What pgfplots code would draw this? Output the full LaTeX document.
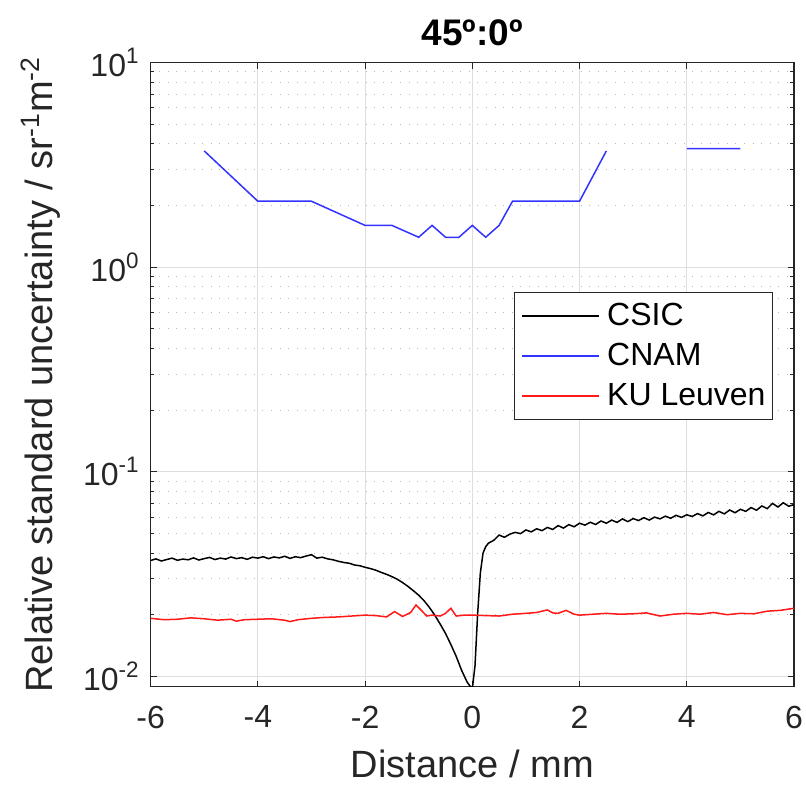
\documentclass[border=0pt]{standalone}
\usepackage{fontspec}
\setmainfont{Liberation Sans}
\usepackage{pgfplots}
\pgfplotsset{compat=1.18}
\definecolor{axcol}{RGB}{38,38,38}
\definecolor{majgrid}{RGB}{222,222,222}
\definecolor{mingrid}{RGB}{185,185,185}
\definecolor{cnam}{RGB}{51,51,255}
\definecolor{ku}{RGB}{255,25,25}
\newcommand{\lstrut}{\rule[-3pt]{0pt}{14.5pt}}
\begin{document}
\begin{tikzpicture}
\begin{axis}[
  scale only axis,
  width=321.7pt, height=312pt,
  xmin=-6, xmax=6,
  ymode=log, ymin=0.0089, ymax=10,
  xtick={-6,-4,-2,0,2,4,6},
  xticklabels={-6,-4,-2,0,2,4,6},
  ytick={0.01,0.1,1,10},
  yticklabels={10\textsuperscript{-2},10\textsuperscript{-1},10\textsuperscript{0},10\textsuperscript{1}},
  tick align=inside,
  major tick length=3pt, minor tick length=1.8pt,
  xmajorgrids, ymajorgrids, yminorgrids,
  major grid style={majgrid, line width=0.5pt},
  minor grid style={mingrid, line width=0.5pt, dash pattern=on 0.5pt off 3.8pt},
  axis line style={axcol, line width=0.6pt},
  every tick/.style={axcol, line width=0.5pt},
  tick label style={font=\fontsize{16}{18}\selectfont, text=axcol},
  xticklabel style={yshift=-6pt},
  yticklabel style={xshift=-2pt},
  xlabel={Distance / mm},
  ylabel={Relative standard uncertainty / sr\textsuperscript{-1}m\textsuperscript{-2}},
  label style={font=\fontsize{19}{21}\selectfont, text=axcol},
  xlabel style={yshift=-4pt},
  ylabel style={yshift=4.5pt},
  title={\textbf{45º:0º}},
  title style={font=\fontsize{18.5}{20}\selectfont, yshift=-1pt},
  legend style={at={(0.9674,0.6325)}, anchor=north east, draw=axcol, line width=0.5pt,
    font=\fontsize{16}{18}\selectfont, row sep=7pt, column sep=3.5pt,
    inner xsep=3.5pt, inner ysep=5.25pt,
    nodes={inner sep=0pt}},
  legend cell align=left,
  legend image code/.code={\draw[#1, line width=0.8pt] (0pt,0pt) -- (38.5pt,0pt);},
  unbounded coords=jump,
]
\addplot[black, line width=0.75pt] coordinates {
(-6.0,0.0368)(-5.9,0.0375)(-5.8,0.0366)(-5.7,0.0372)(-5.6,0.0378)(-5.5,0.0369)(-5.4,0.0374)(-5.3,0.0371)(-5.2,0.0379)(-5.1,0.0370)
(-5.0,0.0376)(-4.9,0.0381)(-4.8,0.0372)(-4.7,0.0378)(-4.6,0.0374)(-4.5,0.0383)(-4.4,0.0376)(-4.3,0.0380)(-4.2,0.0373)(-4.1,0.0382)
(-4.0,0.0378)(-3.9,0.0384)(-3.8,0.0376)(-3.7,0.0383)(-3.6,0.0379)(-3.5,0.0386)(-3.4,0.0377)(-3.3,0.0384)(-3.2,0.0380)(-3.1,0.0387)
(-3.0,0.0393)(-2.9,0.0378)(-2.8,0.0382)(-2.7,0.0375)(-2.6,0.0371)(-2.5,0.0365)(-2.4,0.0360)(-2.3,0.0357)(-2.2,0.0350)(-2.1,0.0347)
(-2.0,0.0341)(-1.9,0.0336)(-1.8,0.0330)(-1.7,0.0322)(-1.6,0.0315)(-1.5,0.0307)(-1.4,0.0298)(-1.3,0.0287)(-1.2,0.0275)(-1.1,0.0262)
(-1.0,0.0249)(-0.9,0.0234)(-0.8,0.0217)(-0.7,0.0199)(-0.6,0.0180)(-0.5,0.0162)(-0.4,0.0143)(-0.3,0.0125)(-0.2,0.0107)(-0.1,0.0094)
(-0.05,0.0090)(0.0,0.0087)(0.05,0.0112)(0.1,0.0203)(0.15,0.0320)(0.2,0.0400)(0.25,0.0430)(0.3,0.0447)(0.4,0.0462)(0.5,0.0490)
(0.6,0.0478)(0.7,0.0495)(0.8,0.0505)(0.9,0.0498)(1.0,0.0519)(1.1,0.0508)(1.2,0.0526)(1.3,0.0515)(1.4,0.0534)(1.5,0.0522)
(1.6,0.0545)(1.7,0.0530)(1.8,0.0551)(1.9,0.0538)(2.0,0.0560)(2.1,0.0548)(2.2,0.0566)(2.3,0.0552)(2.4,0.0574)(2.5,0.0560)
(2.6,0.0580)(2.7,0.0565)(2.8,0.0588)(2.9,0.0570)(3.0,0.0590)(3.1,0.0577)(3.2,0.0596)(3.3,0.0580)(3.4,0.0600)(3.5,0.0588)
(3.6,0.0606)(3.7,0.0592)(3.8,0.0612)(3.9,0.0598)(4.0,0.0616)(4.1,0.0604)(4.2,0.0624)(4.3,0.0608)(4.4,0.0632)(4.5,0.0615)
(4.6,0.0640)(4.7,0.0622)(4.8,0.0650)(4.9,0.0630)(5.0,0.0655)(5.1,0.0640)(5.2,0.0668)(5.3,0.0648)(5.4,0.0680)(5.5,0.0660)
(5.6,0.0700)(5.7,0.0672)(5.8,0.0705)(5.9,0.0678)(6.0,0.0690)
};
\addlegendentry{\lstrut CSIC}
\addplot[cnam, line width=0.75pt] coordinates {
(-5,3.7)(-4,2.1)(-3,2.1)(-2,1.6)(-1.5,1.6)(-1,1.4)(-0.75,1.6)(-0.5,1.4)(-0.25,1.4)(0,1.6)(0.25,1.4)(0.5,1.6)(0.75,2.1)(2,2.1)(2.5,3.7)
(3,nan)(4,3.8)(5,3.8)
};
\addlegendentry{\lstrut CNAM}
\addplot[ku, line width=0.75pt] coordinates {
(-6.0,0.0192)(-5.75,0.0189)(-5.5,0.0190)(-5.25,0.0193)(-5.0,0.0191)(-4.75,0.0188)(-4.5,0.0190)(-4.4,0.0186)(-4.25,0.0189)(-4.0,0.0190)
(-3.75,0.0191)(-3.5,0.0188)(-3.4,0.0185)(-3.25,0.0189)(-3.0,0.0192)(-2.75,0.0194)(-2.5,0.0195)(-2.25,0.0197)(-2.0,0.0199)(-1.8,0.0198)
(-1.6,0.0195)(-1.45,0.0207)(-1.3,0.0196)(-1.15,0.0205)(-1.05,0.0223)(-0.95,0.0210)(-0.85,0.0197)(-0.75,0.0199)(-0.6,0.0197)(-0.5,0.0203)
(-0.4,0.0215)(-0.3,0.0197)(-0.15,0.0199)(0.0,0.0199)(0.25,0.0198)(0.5,0.0197)(0.75,0.0201)(1.0,0.0203)(1.2,0.0205)(1.4,0.0211)
(1.5,0.0204)(1.6,0.0203)(1.75,0.0210)(1.9,0.0201)(2.0,0.0199)(2.25,0.0201)(2.5,0.0203)(2.75,0.0201)(3.0,0.0202)(3.25,0.0204)
(3.5,0.0197)(3.75,0.0201)(4.0,0.0203)(4.25,0.0201)(4.5,0.0205)(4.75,0.0200)(5.0,0.0203)(5.25,0.0202)(5.5,0.0208)(5.75,0.0210)(6.0,0.0215)
};
\addlegendentry{\lstrut KU Leuven}
\end{axis}
\pgfresetboundingbox
\path (current axis.south west)+(-75.3pt,-56.7pt) rectangle ([shift={(6pt,31.3pt)}]current axis.north east);
\end{tikzpicture}
\end{document}
